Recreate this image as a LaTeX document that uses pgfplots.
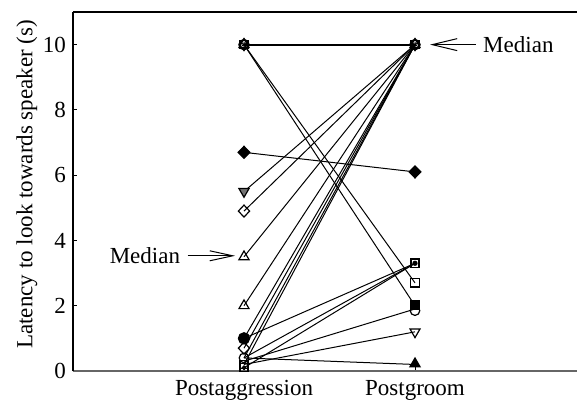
\documentclass[border=0pt]{standalone}
\usepackage{fontspec}
\setmainfont{Liberation Serif}
\newfontfamily\myserif{Liberation Serif}
\usepackage{pgfplots}
\pgfplotsset{compat=1.18}
\usetikzlibrary{arrows.meta}
\begin{document}
\begin{tikzpicture}[font=\myserif\fontsize{11.5}{13.8}\selectfont]
\begin{axis}[
  at={(36.5pt,15pt)}, anchor=south west,
  scale only axis, width=256.5pt, height=179.5pt,
  xmin=-1, xmax=2, ymin=0, ymax=11,
  clip=false,
  axis x line*=bottom, axis y line*=left,
  x axis line style={-, draw=black!60, line width=0.7pt},
  y axis line style={-, line width=0.6pt},
  xtick={0,1}, xticklabels={Postaggression, Postgroom},
  ytick={0,2,4,6,8,10},
  tick align=inside, major tick length=2pt,
  tick style={black, line width=0.5pt},
  /pgf/number format/assume math mode=true,
  ylabel={Latency to look towards speaker (s)},
  ylabel style={at={(axis description cs:-0.09,0.52)}, anchor=center},
  xticklabel style={yshift=-1pt},
  every axis plot/.append style={black, line width=0.5pt},
  omk/.style={only marks, line width=0.6pt, mark options={solid, fill=white, draw=black}},
  fmk/.style={only marks, line width=0.6pt, mark options={solid, fill=black, draw=black}},
]
% paired lines
\addplot[no marks, line width=0.9pt] coordinates {(0,10) (1,10)};
\addplot[no marks] coordinates {(0,10) (1,2.7)};
\addplot[no marks] coordinates {(0,10) (1,2.0)};
\addplot[no marks] coordinates {(0,6.7) (1,6.1)};
\addplot[no marks] coordinates {(0,5.5) (1,10)};
\addplot[no marks] coordinates {(0,4.9) (1,10)};
\addplot[no marks] coordinates {(0,3.5) (1,10)};
\addplot[no marks] coordinates {(0,2.0) (1,10)};
\addplot[no marks] coordinates {(0,1.0) (1,10)};
\addplot[no marks] coordinates {(0,1.0) (1,3.3)};
\addplot[no marks] coordinates {(0,0.7) (1,10)};
\addplot[no marks] coordinates {(0,0.4) (1,10)};
\addplot[no marks] coordinates {(0,0.2) (1,10)};
\addplot[no marks] coordinates {(0,0.4) (1,3.3)};
\addplot[no marks] coordinates {(0,0.1) (1,3.3)};
\addplot[no marks] coordinates {(0,0.3) (1,1.9)};
\addplot[no marks] coordinates {(0,0.2) (1,1.2)};
\addplot[no marks] coordinates {(0,0.4) (1,0.2)};
% markers at 10 (overlapping)
\addplot[omk, mark=triangle, mark size=2.9pt] coordinates {(0,10) (1,10)};
\addplot[omk, mark=diamond, mark size=3.0pt] coordinates {(0,10) (1,10)};
\addplot[omk, mark=square, mark size=2.1pt] coordinates {(0,10) (1,10)};
\addplot[omk, mark=o, mark size=2.4pt, line width=0.9pt] coordinates {(0,10) (1,10)};
\addplot[fmk, mark=asterisk, mark size=1.2pt, line width=0.5pt] coordinates {(0,10) (1,10)};
% Postaggression markers
\addplot[fmk, mark=diamond*, mark size=3.0pt, mark options={xscale=1.3}] coordinates {(0,6.7)};
\addplot[only marks, mark=triangle*, mark size=2.9pt, mark options={rotate=180, fill=black!55, draw=black, line width=0.6pt}] coordinates {(0,5.5)};
\addplot[omk, mark=diamond, mark size=3.0pt, mark options={xscale=1.25}] coordinates {(0,4.9)};
\addplot[omk, mark=triangle, mark size=2.9pt] coordinates {(0,3.5) (0,2.0)};
\addplot[omk, mark=square, mark size=2.0pt] coordinates {(0,0.2)};
\addplot[omk, mark=o, mark size=2.4pt] coordinates {(0,0.4)};
\addplot[omk, mark=diamond, mark size=3.0pt, mark options={xscale=1.25}] coordinates {(0,0.7)};
\addplot[fmk, mark=*, mark size=2.8pt] coordinates {(0,1.0)};
\addplot[omk, mark=square, mark size=2.0pt] coordinates {(0,0.1)};
\addplot[fmk, mark=*, mark size=0.9pt] coordinates {(0,0.1)};
% Postgroom markers
\addplot[fmk, mark=diamond*, mark size=3.0pt, mark options={xscale=1.3}] coordinates {(1,6.1)};
\addplot[omk, mark=square, mark size=2.1pt, line width=0.9pt] coordinates {(1,3.3)};
\addplot[fmk, mark=*, mark size=1.0pt] coordinates {(1,3.3)};
\addplot[omk, mark=square, mark size=2.1pt] coordinates {(1,2.7)};
\addplot[omk, mark=o, mark size=2.4pt] coordinates {(1,1.85)};
\addplot[fmk, mark=square*, mark size=2.0pt] coordinates {(1,2.02)};
\addplot[omk, mark=triangle, mark size=2.9pt, mark options={rotate=180}] coordinates {(1,1.2)};
\addplot[fmk, mark=triangle*, mark size=2.9pt] coordinates {(1,0.22)};
% median annotations
\draw[line width=0.5pt, -{Straight Barb[length=11.5pt,width=5pt]}] (axis cs:-0.33,3.53) -- (axis cs:-0.052,3.53);
\node[anchor=east, inner sep=1pt] at (axis cs:-0.36,3.53) {Median};
\draw[line width=0.5pt, -{Straight Barb[length=12.5pt,width=6pt]}] (axis cs:1.355,10) -- (axis cs:1.088,10);
\node[anchor=west, inner sep=1pt] at (axis cs:1.385,10) {Median};
\draw[line width=0.6pt] (rel axis cs:0,1) -- (rel axis cs:1,1);
\end{axis}
\pgfresetboundingbox
\path[use as bounding box] (0,0) rectangle (288.5pt,200.5pt);
\end{tikzpicture}
\end{document}
